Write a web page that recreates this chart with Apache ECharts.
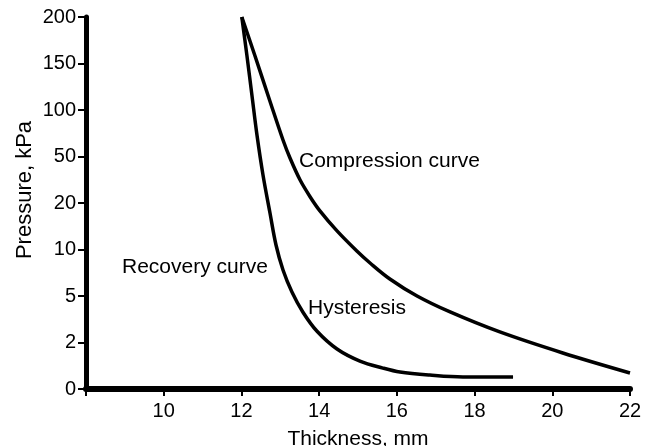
<!DOCTYPE html>
<html>
<head>
<meta charset="utf-8">
<script src="https://cdn.jsdelivr.net/npm/echarts@6/dist/echarts.min.js"></script>
<style>html,body{margin:0;padding:0;background:#fff;}#c{width:656px;height:446px;}</style>
</head>
<body>
<div id="c"></div>
<script>
// Pressure axis tick labels (equally spaced, non-linear scale)
var pressureTicks = [0, 2, 5, 10, 20, 50, 100, 150, 200];
var thicknessTicks = [8, 10, 12, 14, 16, 18, 20, 22];

// Compression curve (thickness mm, pressure kPa)
var compThickness = [12.01, 12.35, 12.73, 13.07, 13.25, 13.51, 13.77, 14.02, 14.46, 14.97, 15.31, 15.82, 16.52, 17.37, 18.65, 20.27, 22.0];
var compPressure  = [200, 158, 110, 67.7, 49.0, 34.8, 23.9, 18.3, 14.0, 9.84, 8.55, 6.83, 5.0, 3.97, 2.68, 1.55, 0.69];

// Recovery curve
var recThickness = [12.01, 12.14, 12.27, 12.40, 12.555, 12.735, 12.89, 13.07, 13.30, 13.58, 13.94, 14.46, 15.05, 15.64, 16.08, 16.85, 17.70, 18.99];
var recPressure  = [200, 159, 116, 73.1, 38.1, 17.85, 10.97, 7.80, 5.43, 3.97, 2.74, 1.72, 1.20, 0.90, 0.73, 0.60, 0.52, 0.52];

// map pressure to position on the equally spaced tick axis
function toAxis(p) {
  for (var i = 0; i < pressureTicks.length - 1; i++) {
    if (p <= pressureTicks[i + 1]) {
      return i + (p - pressureTicks[i]) / (pressureTicks[i + 1] - pressureTicks[i]);
    }
  }
  return pressureTicks.length - 1;
}
function pairs(xs, ps) {
  return xs.map(function (x, i) { return [x, toAxis(ps[i])]; });
}

var font = "'Liberation Sans', Arial, sans-serif";
var chart = echarts.init(document.getElementById('c'));
chart.setOption({
  animation: false,
  grid: { left: 86, right: 26, top: 17, bottom: 57, containLabel: false, outerBoundsMode: 'none' },
  xAxis: {
    type: 'value', min: 8, max: 22, interval: 2,
    name: 'Thickness, mm', nameLocation: 'middle', nameGap: 40,
    nameTextStyle: { color: '#000', fontSize: 21, fontFamily: font },
    axisLine: { lineStyle: { color: '#000', width: 6 } },
    axisTick: { length: 7, lineStyle: { color: '#000', width: 2 } },
    axisLabel: { color: '#000', fontSize: 20, fontFamily: font, margin: 12,
      formatter: function (v) { return v === thicknessTicks[0] ? '' : String(v); } },
    splitLine: { show: false }
  },
  yAxis: {
    type: 'value', min: 0, max: pressureTicks.length - 1, interval: 1,
    axisLine: { show: true, lineStyle: { color: '#000', width: 5 } },
    axisTick: { show: true, length: 8, lineStyle: { color: '#000', width: 2 } },
    axisLabel: { color: '#000', fontSize: 20, fontFamily: font, margin: 10,
      formatter: function (v) { return String(pressureTicks[Math.round(v)]); } },
    splitLine: { show: false }
  },
  series: [
    { type: 'line', name: 'Compression curve', data: pairs(compThickness, compPressure),
      smooth: 0.35, symbol: 'none', clip: false, lineStyle: { color: '#000', width: 3.5 } },
    { type: 'line', name: 'Recovery curve', data: pairs(recThickness, recPressure),
      smooth: 0.35, symbol: 'none', clip: false, lineStyle: { color: '#000', width: 3.5 } }
  ],
  graphic: [
    { type: 'text', x: 25, y: 190, rotation: Math.PI / 2,
      style: { text: 'Pressure, kPa', fill: '#000', font: '22px ' + font, textAlign: 'center', textVerticalAlign: 'middle' } },
    { type: 'text', left: 299, top: 151, style: { text: 'Compression curve', fill: '#000', font: '21px ' + font } },
    { type: 'text', left: 122, top: 257, style: { text: 'Recovery curve', fill: '#000', font: '21px ' + font } },
    { type: 'text', left: 308, top: 298, style: { text: 'Hysteresis', fill: '#000', font: '21px ' + font } }
  ]
});
</script>
</body>
</html>
